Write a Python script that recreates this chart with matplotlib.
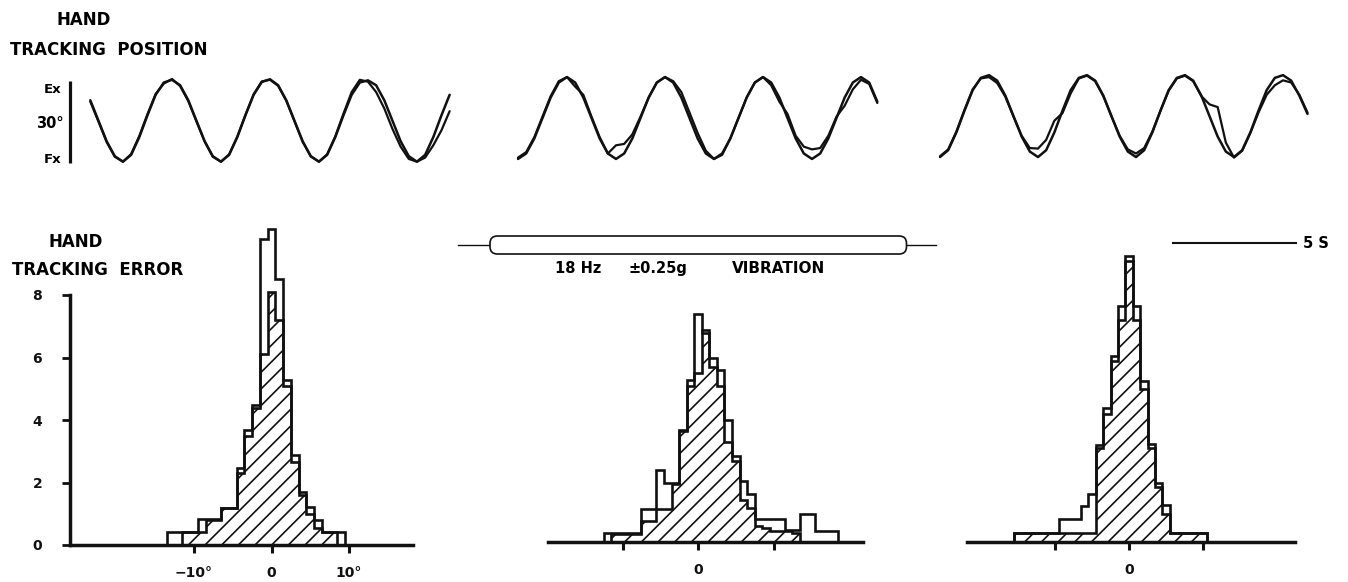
import numpy as np
import matplotlib
matplotlib.use("Agg")
import matplotlib.pyplot as plt
from matplotlib.patches import FancyBboxPatch

plt.rcParams['font.family'] = ['DejaVu Sans']
plt.rcParams['font.weight'] = 'bold'
plt.rcParams['hatch.linewidth'] = 1.2

# ---------------- DATA ----------------
# Hand tracking position traces (degrees, Ex positive), sampled every 1/3 s
p1_target = [6.5, -1, -8.5, -14, -16, -13.5, -7, 1, 8.5, 13, 14, 12,
             6.5, -1, -8.5, -14, -16, -13.5, -7, 1, 8.5, 13.2, 14.2, 12,
             6.5, -1, -8.5, -14, -16, -13.5, -7, 1, 8.5, 13, 13.8, 12,
             6.5, -1, -8.5, -14, -16, -13.5, -7, 1, 8.5]
p1_hand = [6, -1.3, -8.8, -14.2, -16, -13.2, -6.6, 1.4, 8.8, 12.6, 14.3, 11.7,
           6.2, -1.3, -8.6, -14.2, -16, -13.3, -6.8, 1.2, 8.7, 13.4, 14, 11.8,
           6.3, -1.2, -8.7, -14.1, -16, -13.3, -6.7, 1.6, 9.5, 14, 13.3, 9.5,
           3.5, -4, -10.5, -15, -16, -14.5, -10, -4.5, 2.5]

p2_target = [-15, -13, -7.5, 0, 7.5, 13, 15, 13, 7.5, 0, -7.5, -13,
             -15, -13, -7.5, 0, 7.5, 13, 15, 13, 7.5, 0, -7.5, -13,
             -15, -13, -7.5, 0, 7.5, 13, 15, 13, 7.5, 0, -7.5, -13,
             -15, -13, -7.5, 0, 7.5, 13, 15, 13, 6]
p2_hand = [-14.5, -12.5, -7, 0.5, 8, 13.5, 15, 11.5, 8.5, 0.5, -7, -13,
           -10, -9.5, -6, 0.5, 7.5, 13, 15, 13.5, 9.5, 2, -5.5, -12,
           -15, -13.5, -7.5, 0, 7.5, 13, 15, 12, 6, 1.5, -6.5, -10.5,
           -11.5, -11, -6.5, 0.5, 4.5, 10.5, 14, 12.5, 5.5]

p3_target = [-14.3, -11.8, -5.3, 2.7, 10.2, 14.7, 15.7, 13.7, 8.2, 0.7, -6.8, -12.3,
             -14.3, -11.8, -5.3, 2.7, 10.2, 14.7, 15.7, 13.7, 8.2, 0.7, -6.8, -12.3,
             -14.3, -11.8, -5.3, 2.7, 10.2, 14.7, 15.7, 13.7, 8.2, 0.7, -6.8, -12.3,
             -14.3, -11.8, -5.3, 2.7, 10.2, 14.7, 15.7, 13.7, 8.2, 1.5]
p3_hand = [-14, -11.5, -5, 3, 10.5, 14.5, 15, 12.8, 7.8, 0.5, -6.5, -11,
           -11.2, -8, -1, 1.8, 9, 14.5, 15.5, 13.5, 8, 0.5, -6.5, -11.5,
           -13, -11, -5, 2.7, 10, 14.5, 15.5, 13.5, 8, 5, 4, -9,
           -14.5, -12, -5.5, 2, 8.5, 12, 13.8, 13, 8.5, 2]

scale_deg = 30          # vertical calibration bar (Ex - Fx)
vib_on_s, vib_off_s = 20.0, 37.0   # vibration period on the time base
time_bar_s = 5          # time calibration bar

# Hand tracking error histograms (bins of 1 degree, centred on integers)
h1_bins = list(range(-13, 10))
h1_open = [0.43, 0.43, 0.43, 0.43, 0.83, 0.83, 0.83, 1.17, 1.2, 2.45, 3.67, 4.47,
           9.8, 10.1, 8.5, 5.27, 2.87, 1.7, 1.22, 0.8, 0.43, 0.43, 0.43]
h1_hatched = [0, 0, 0.43, 0.43, 0.43, 0.8, 0.8, 1.2, 1.2, 2.3, 3.5, 4.4,
              6.1, 8.1, 7.2, 5.1, 2.65, 1.6, 1.0, 0.55, 0.43, 0.43, 0]

h2_bins = list(range(-12, 19))
h2_open = [0.3, 0.3, 0.3, 0.3, 0.3, 1.05, 1.05, 2.3, 1.9, 1.9, 3.6, 5.2,
           7.3, 6.7, 5.9, 5.5, 3.9, 2.75, 1.95, 1.55, 0.75, 0.75, 0.75, 0.75,
           0.4, 0.4, 0.9, 0.9, 0.35, 0.35, 0.35]
h2_hatched = [0, 0.25, 0.25, 0.25, 0.25, 0.67, 0.67, 1.05, 1.05, 1.85, 3.55, 5.0,
              5.4, 6.8, 5.6, 5.0, 3.2, 2.6, 1.35, 1.1, 0.5, 0.45, 0.35, 0.35,
              0.35, 0.3, 0, 0, 0, 0, 0]

h3_bins = list(range(-15, 11))
h3_open = [0.29, 0.29, 0.29, 0.29, 0.29, 0.29, 0.75, 0.75, 0.75, 1.14, 1.54, 3.1,
           4.3, 5.96, 7.55, 9.15, 7.55, 5.16, 3.14, 1.9, 1.17, 0.29, 0.29, 0.29,
           0.29, 0.29]
h3_hatched = [0.29, 0.29, 0.29, 0.29, 0.29, 0.29, 0.29, 0.29, 0.29, 0.29, 0.29, 3.0,
              4.1, 5.8, 7.1, 9.0, 7.1, 4.9, 3.0, 1.75, 0.9, 0.29, 0.29, 0.29,
              0.29, 0.29]

x_ticks_deg = [-10, 0, 10]
h1_xticklabels = ['\u221210\u00b0', '0', '10\u00b0']
h1_yticks = [0, 2, 4, 6, 8]

# ---------------- LAYOUT ----------------
W, H = 1348, 582
fig = plt.figure(figsize=(W / 100, H / 100), dpi=100)
fig.patch.set_facecolor('white')


def axes_px(x0, y0, x1, y1):
    """x0,x1 left/right; y0 top, y1 bottom in pixels."""
    return fig.add_axes([x0 / W, 1 - y1 / H, (x1 - x0) / W, (y1 - y0) / H])


def ftext(px, py, s, **kw):
    kw.setdefault('fontweight', 'bold')
    kw.setdefault('va', 'baseline')
    fig.text(px / W, 1 - py / H, s, **kw)


PX_PER_S = 24.5
STEP_S = 1 / 3
BLACK = '#111111'

# ---- top waveform row ----
ax_top = axes_px(0, 60, W, 180)
ax_top.set_xlim(0, W / PX_PER_S)
ax_top.set_ylim(-22.71, 21.25)
ax_top.axis('off')

trace_starts = [90.3 / PX_PER_S, 518 / PX_PER_S, 940 / PX_PER_S]
for start, tgt, hand in zip(trace_starts, [p1_target, p2_target, p3_target],
                            [p1_hand, p2_hand, p3_hand]):
    t = start + np.arange(len(tgt)) * STEP_S
    ax_top.plot(t, tgt, color=BLACK, lw=1.8, solid_joinstyle='round',
                solid_capstyle='round')
    t2 = start + np.arange(len(hand)) * STEP_S
    ax_top.plot(t2, hand, color=BLACK, lw=1.6, solid_joinstyle='round',
                solid_capstyle='round')

bar_x = 70 / PX_PER_S
ax_top.plot([bar_x, bar_x], [-16.5, -16.5 + scale_deg], color=BLACK, lw=2.3,
            solid_capstyle='butt')

# ---- time base row (vibration + 5 s bar) ----
ax_time = axes_px(0, 230, W, 260)
ax_time.set_xlim(0, W / PX_PER_S)
ax_time.set_ylim(-1, 1)
ax_time.axis('off')
ax_time.plot([vib_on_s - 1.3, vib_off_s + 1.2], [0, 0], color=BLACK, lw=1.0, zorder=1)
cap = FancyBboxPatch((vib_on_s, -0.6), vib_off_s - vib_on_s, 1.2,
                     boxstyle="round,pad=0,rounding_size=0.3",
                     mutation_aspect=PX_PER_S / 15.0,
                     facecolor='white', edgecolor=BLACK, lw=1.2, zorder=2)
ax_time.add_patch(cap)
tb0 = 1173 / PX_PER_S
ax_time.plot([tb0, tb0 + time_bar_s], [0.13, 0.13], color=BLACK, lw=1.5)


# ---- histograms ----
def hist_axes(x0, x1, base_y, zero_px, px_per_deg, ytop, bins, open_v, hatch_v,
              left_axis=False, xlabels=None):
    ax = axes_px(x0, base_y - ytop * 31.25, x1, base_y)
    ax.set_xlim((x0 - zero_px) / px_per_deg, (x1 - zero_px) / px_per_deg)
    ax.set_ylim(0, ytop)
    ax.patch.set_alpha(0)
    edges = np.append(np.array(bins) - 0.5, bins[-1] + 0.5)
    ax.stairs(hatch_v, edges, baseline=0, fill=True, facecolor='none',
              edgecolor=BLACK, hatch='//', lw=1.9, clip_on=False)
    ax.stairs(open_v, edges, baseline=0, fill=False, color=BLACK, lw=1.9,
              clip_on=False)
    for s in ['top', 'right']:
        ax.spines[s].set_visible(False)
    ax.spines['bottom'].set_linewidth(2.5)
    ax.spines['bottom'].set_color(BLACK)
    ax.set_xticks(x_ticks_deg)
    if xlabels is None:
        xlabels = ['' if v != 0 else '0' for v in x_ticks_deg]
    ax.set_xticklabels(xlabels)
    ax.tick_params(axis='x', direction='out', length=6, width=2.2, pad=9,
                   labelsize=10, colors=BLACK)
    if left_axis:
        ax.spines['left'].set_linewidth(2.5)
        ax.spines['left'].set_color(BLACK)
        ax.spines['left'].set_bounds(0, 8)
        ax.set_yticks(h1_yticks)
        ax.tick_params(axis='y', direction='out', length=6, width=2.0, pad=14,
                       labelsize=10, colors=BLACK)
    else:
        ax.spines['left'].set_visible(False)
        ax.set_yticks([])
    return ax


hist_axes(70, 413, 545, 271.5, 7.75, 10.6, h1_bins, h1_open, h1_hatched,
          left_axis=True, xlabels=h1_xticklabels)
hist_axes(548, 863, 542, 698, 7.55, 8.0, h2_bins, h2_open, h2_hatched)
hist_axes(967, 1295, 542, 1129, 7.4, 10.0, h3_bins, h3_open, h3_hatched)

# ---- text ----
ftext(84, 25, 'HAND', ha='center', fontsize=12)
ftext(10, 55, 'TRACKING  POSITION', ha='left', fontsize=12)
ftext(76, 247, 'HAND', ha='center', fontsize=12)
ftext(12, 275, 'TRACKING  ERROR', ha='left', fontsize=12)
ftext(61, 93, 'Ex', ha='right', fontsize=9.5)
ftext(64, 128, '30\u00b0', ha='right', fontsize=10.5)
ftext(61, 163, 'Fx', ha='right', fontsize=9.5)
ftext(555, 273, '18 Hz', ha='left', fontsize=10.5)
ftext(628, 273, '\u00b10.25g', ha='left', fontsize=10.5)
ftext(732, 273, 'VIBRATION', ha='left', fontsize=11)
ftext(1303, 248, '5 S', ha='left', fontsize=10.5)

fig.savefig('out.png', dpi=100, facecolor='white')
